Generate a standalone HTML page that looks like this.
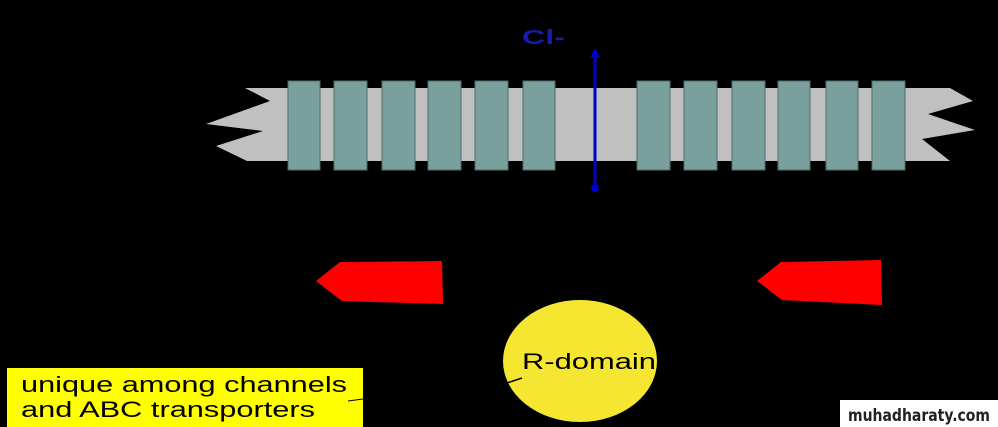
<!DOCTYPE html>
<html><head><style>
body{margin:0;background:#000;width:998px;height:427px;overflow:hidden;position:relative;font-family:"Liberation Sans",sans-serif}
</style></head><body>
<svg width="998" height="427" style="position:absolute;left:0;top:0">
<polygon points="245,88 905,88 950,88 973,101 928,114 975,130 922,139 950,161 247,161 216,146 263,131 206,124 270,101" fill="#c0c0c0"/>
<g fill="#7aa09e" stroke="#4d6b69" stroke-width="1">
<rect x="288" y="81" width="32" height="89"/><rect x="334" y="81" width="33" height="89"/><rect x="382" y="81" width="33" height="89"/><rect x="428" y="81" width="33" height="89"/><rect x="475" y="81" width="33" height="89"/><rect x="523" y="81" width="32" height="89"/>
<rect x="637" y="81" width="33" height="89"/><rect x="684" y="81" width="33" height="89"/><rect x="732" y="81" width="33" height="89"/><rect x="778" y="81" width="32" height="89"/><rect x="826" y="81" width="32" height="89"/><rect x="872" y="81" width="33" height="89"/>
</g>
<line x1="595" y1="52" x2="595" y2="188" stroke="#0000cc" stroke-width="3"/>
<polygon points="595,48 590,58 600,58" fill="#0000cc"/>
<circle cx="595" cy="188" r="4" fill="#0000cc"/>
<text x="522" y="44" fill="#1a1ab0" font-size="20" font-weight="bold" textLength="43" lengthAdjust="spacingAndGlyphs">Cl-</text>
<polygon points="316,281 340,262 442,261 443,304 342,301" fill="#f00"/>
<polygon points="757,281 781,262 881,260 882,305 782,300" fill="#f00"/>
<ellipse cx="580" cy="361" rx="77" ry="61" fill="#f5e632"/>
<text x="522" y="369" font-size="22" fill="#000" textLength="134" lengthAdjust="spacingAndGlyphs">R-domain</text>
<line x1="507" y1="383" x2="522" y2="378" stroke="#000" stroke-width="1.5"/>
<rect x="7" y="368" width="356" height="59" fill="#ffff00"/>
<text x="21" y="392" font-size="22" fill="#000" textLength="326" lengthAdjust="spacingAndGlyphs">unique among channels</text>
<text x="21" y="417" font-size="22" fill="#000" textLength="294" lengthAdjust="spacingAndGlyphs">and ABC transporters</text>
<line x1="348" y1="401" x2="363" y2="399" stroke="#000" stroke-width="1"/>
<rect x="840" y="400" width="158" height="27" fill="#fff"/>
<text x="848" y="421" font-size="17" font-weight="bold" fill="#222" font-family="DejaVu Sans,sans-serif" textLength="142" lengthAdjust="spacingAndGlyphs">muhadharaty.com</text>
</svg>
</body></html>
